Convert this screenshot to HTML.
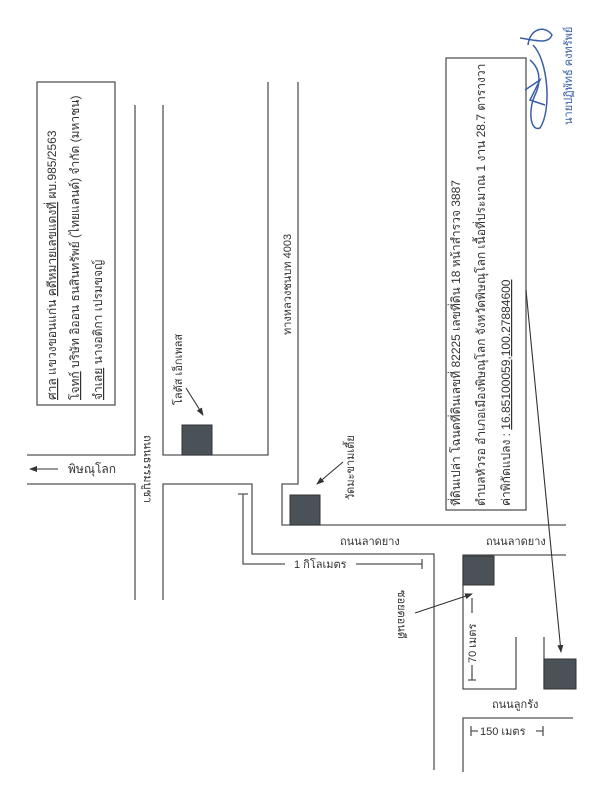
<!DOCTYPE html>
<html><head><meta charset="utf-8"><style>
html,body{margin:0;padding:0;background:#fff;}
svg{display:block;}
text{font-family:"Liberation Sans","DejaVu Sans",sans-serif;fill:#333;}
</style></head><body>
<svg width="612" height="800" viewBox="0 0 612 800" xmlns="http://www.w3.org/2000/svg">
<rect width="612" height="800" fill="#fff"/>
<defs><marker id="ah" markerWidth="8" markerHeight="8" refX="7" refY="4" orient="auto" markerUnits="userSpaceOnUse"><path d="M0,1 L8,4 L0,7 Z" fill="#333"/></marker></defs>
<g stroke="#555" stroke-width="1.3" fill="none">
<rect x="37" y="82" width="78" height="323"/>
<rect x="446" y="58" width="80" height="452"/>
<path d="M135 105 V455 H27"/>
<path d="M163 105 V455 H268 V82"/>
<path d="M27 484 H135 V600"/>
<path d="M163 600 V484 H252 V554 H434 V770"/>
<path d="M298 82 V484 H282 V525 H566"/>
<path d="M566 555 H463 V689 H516 V637"/>
<path d="M544 637 V689"/>
<path d="M573 718 H463 V772"/>
<path d="M243 494 V564 H285 M238 494 H248 M356 564 H422 M422 559 V569"/>
<path d="M472 598 V613 M472 665 V680 M468 680 H476"/>
<path d="M471 726 V736 M471 731 H478 M536 731 H543 M543 726 V736"/>
</g>
<g fill="#4a5258" stroke="#333">
<rect x="182" y="425" width="30" height="30"/>
<rect x="290" y="495" width="30" height="30"/>
<rect x="463" y="556" width="31" height="29"/>
<rect x="544" y="659" width="32" height="30"/>
</g>
<g stroke="#333" stroke-width="1.1" marker-end="url(#ah)">
<line x1="58" y1="469" x2="30" y2="469"/>
<line x1="186" y1="388" x2="203" y2="415"/>
<line x1="343" y1="462" x2="317" y2="484"/>
<line x1="415" y1="613" x2="472" y2="594"/>
<line x1="526" y1="290" x2="561" y2="652"/>
</g>
<g font-size="11">
<text x="68" y="473" font-size="12">พิษณุโลก</text>
<text transform="translate(144,435) rotate(90)">ถนนธรรมบูชา</text>
<text transform="translate(182,405) rotate(-90)">โลตัส เอ็กเพลส</text>
<text transform="translate(291,335) rotate(-90)">ทางหลวงชนบท 4003</text>
<text transform="translate(354,500) rotate(-90)">วัดมะขามเตี้ย</text>
<text x="340" y="545">ถนนลาดยาง</text>
<text x="486" y="545">ถนนลาดยาง</text>
<text x="294" y="568">1 กิโลเมตร</text>
<text transform="translate(398,590) rotate(90)">ซอยตอนดี</text>
<text transform="translate(476,663) rotate(-90)">70 เมตร</text>
<text x="492" y="708">ถนนลูกรัง</text>
<text x="480" y="735">150 เมตร</text>
</g>
<g font-size="12">
<text transform="translate(56,400) rotate(-90)"><tspan text-decoration="underline">ศาล</tspan> แขวงขอนแก่น   <tspan text-decoration="underline">คดีหมายเลขแดงที่</tspan> ผบ.985/2563</text>
<text transform="translate(79,400) rotate(-90)"><tspan text-decoration="underline">โจทก์</tspan> บริษัท อิออน ธนสินทรัพย์ (ไทยแลนด์) จำกัด (มหาชน)</text>
<text transform="translate(102,400) rotate(-90)"><tspan text-decoration="underline">จำเลย</tspan> นางอติกา เปรมขจญ์</text>
</g>
<g font-size="12">
<text transform="translate(460,506) rotate(-90)">ที่ดินเปล่า โฉนดที่ดินเลขที่ 82225 เลขที่ดิน 18 หน้าสำรวจ 3887</text>
<text transform="translate(485,506) rotate(-90)">ตำบลหัวรอ อำเภอเมืองพิษณุโลก จังหวัดพิษณุโลก เนื้อที่ประมาณ 1 งาน 28.7 ตารางวา</text>
<text transform="translate(510,506) rotate(-90)">ค่าพิกัดแปลง : <tspan text-decoration="underline">16.85100059,100.27884600</tspan></text>
</g>
<g stroke="#3a5fa8" stroke-width="1.5" fill="none">
<path d="M533 45 C548 60 552 110 540 128 C530 132 528 110 535 95 C540 85 542 70 530 60"/>
<path d="M525 90 L540 80 L530 100 L545 105"/>
<path d="M520 38 C535 40 548 45 552 35 C545 25 530 28 528 45"/>
</g>
<text transform="translate(572,125) rotate(-90)" font-size="11" style="fill:#3a5fa8">นายปฏิพัทธ์ คงทรัพย์</text>
</svg>
</body></html>
